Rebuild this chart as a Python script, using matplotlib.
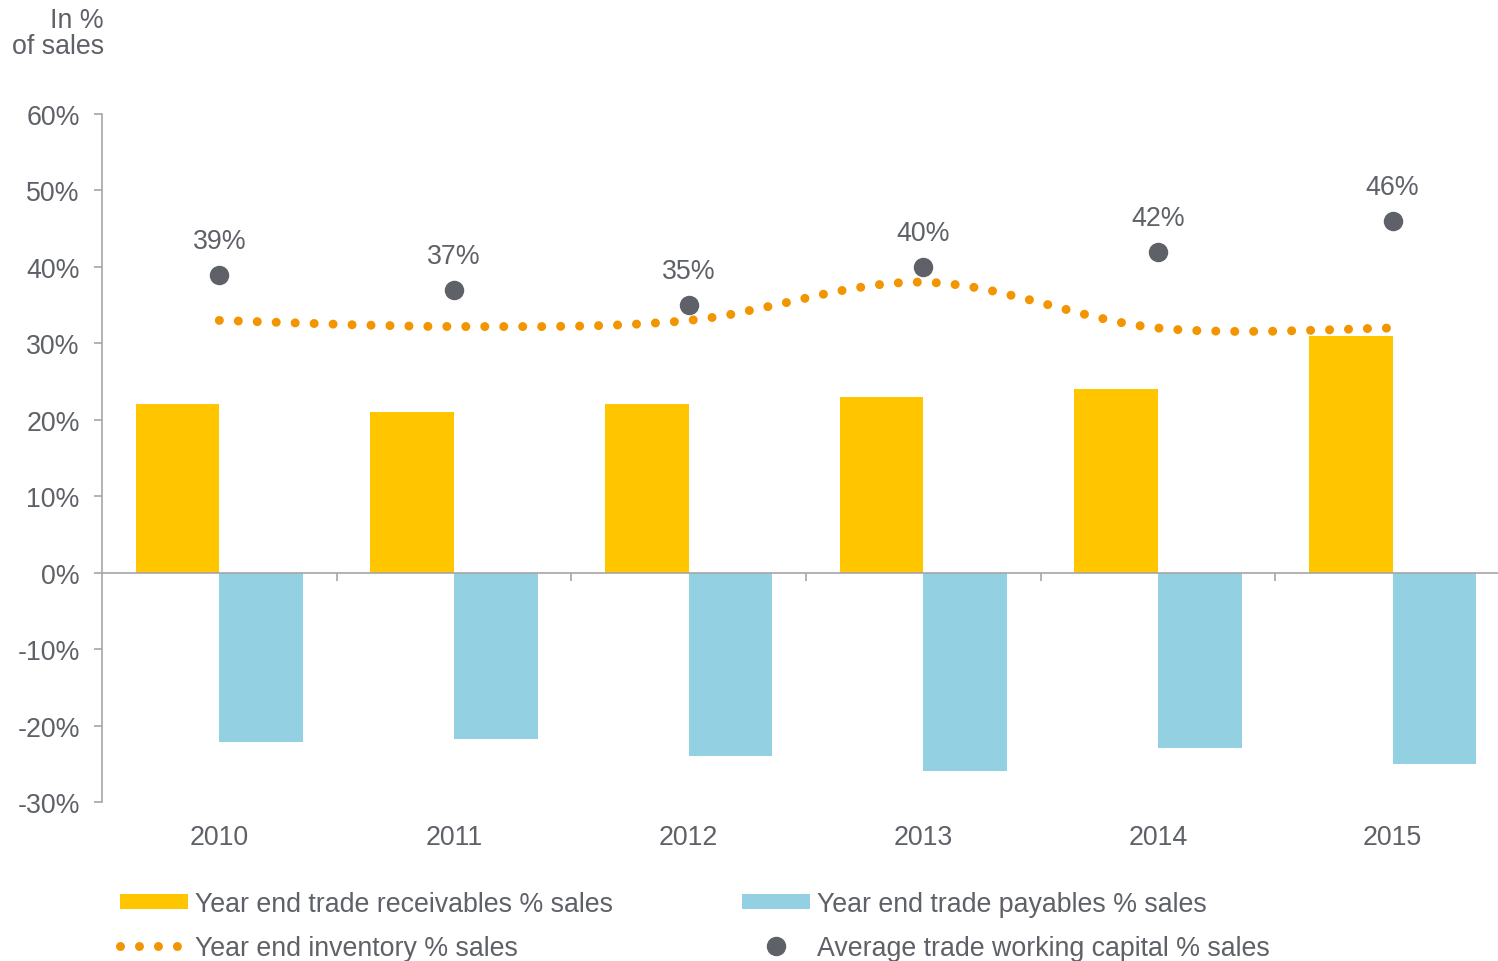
import numpy as np
import matplotlib
matplotlib.use('Agg')
import matplotlib.pyplot as plt
from matplotlib.path import Path
from matplotlib.patches import PathPatch, Patch
from matplotlib.lines import Line2D

# Chart data
years = ['2010', '2011', '2012', '2013', '2014', '2015']
receivables = [22, 21, 22, 23, 24, 31]
payables = [-22.2, -21.7, -24, -26, -23, -25]
inventory = [33, 32.2, 33, 38, 32, 32]
avg_twc = [39, 37, 35, 40, 42, 46]
avg_labels = ['39%', '37%', '35%', '40%', '42%', '46%']
yticks = [-30, -20, -10, 0, 10, 20, 30, 40, 50, 60]

# Colours
yellow = '#FFC600'
blue = '#92D0E2'
orange = '#F39500'
dark = '#5F6168'
grey_line = '#A6A6A6'

plt.rcParams['font.family'] = ['Liberation Sans', 'DejaVu Sans']
fs = 19.3

fig = plt.figure(figsize=(14.98, 9.62), dpi=100)
ax = fig.add_axes([102 / 1498, 159 / 962, 1408 / 1498, 688 / 962])

x = np.arange(len(years))
w = 0.357
ax.bar(x - w / 2, receivables, width=w, color=yellow, zorder=2)
ax.bar(x + w / 2, payables, width=w, color=blue, zorder=2)

# smoothed inventory line (Catmull-Rom style bezier, like Excel's smoothing)
pts = np.column_stack([x, inventory]).astype(float)
verts = [tuple(pts[0])]
codes = [Path.MOVETO]
n = len(pts)
for i in range(n - 1):
    p0 = pts[max(i - 1, 0)]
    p1 = pts[i]
    p2 = pts[i + 1]
    p3 = pts[min(i + 2, n - 1)]
    c1 = p1 + (p2 - p0) / 6
    c2 = p2 - (p3 - p1) / 6
    verts += [tuple(c1), tuple(c2), tuple(p2)]
    codes += [Path.CURVE4] * 3
dot_style = (0, (0.001, 2.1))
inv = PathPatch(Path(verts, codes), fill=False, edgecolor=orange, linewidth=6.5,
                linestyle=dot_style, capstyle='round', zorder=3)
ax.add_patch(inv)

ax.plot(x, avg_twc, 'o', color=dark, markersize=13, zorder=4)
for xi, yi, lab in zip(x, avg_twc, avg_labels):
    ax.annotate(lab, (xi, yi), xytext=(0, 15), textcoords='offset points',
                ha='center', va='bottom', fontsize=fs, color=dark)

ax.set_xlim(-0.5, len(years) - 0.5)
ax.set_ylim(-30, 60)
ax.set_yticks(yticks)
ax.set_yticklabels(['%d%%' % v for v in yticks])

for s in ['top', 'right']:
    ax.spines[s].set_visible(False)
ax.spines['left'].set_color(grey_line)
ax.spines['left'].set_linewidth(1.2)
ax.spines['bottom'].set_position(('data', 0))
ax.spines['bottom'].set_color(grey_line)
ax.spines['bottom'].set_linewidth(1.2)

ax.set_xticks(x)
ax.set_xticklabels([])
ax.set_xticks(x[:-1] + 0.5, minor=True)
ax.tick_params(axis='x', which='major', length=0)
ax.tick_params(axis='x', which='minor', length=6, width=1.2, color=grey_line)
ax.tick_params(axis='y', length=6, width=1.2, color=grey_line, labelsize=fs,
               labelcolor=dark, pad=10)

sec = ax.secondary_xaxis('bottom')
sec.spines['bottom'].set_visible(False)
sec.set_xticks(x)
sec.set_xticklabels(years)
sec.tick_params(length=0, pad=16, labelsize=fs, labelcolor=dark)

fig.text(104 / 1498, 1 - 8 / 962, 'In %\nof sales', ha='right', va='top',
         fontsize=fs, color=dark, multialignment='right', linespacing=1.0)

handles = [
    Patch(facecolor=yellow, edgecolor='none'),
    Line2D([], [], color=orange, linewidth=6.5, linestyle=dot_style,
           solid_capstyle='round', dash_capstyle='round'),
    Patch(facecolor=blue, edgecolor='none'),
    Line2D([], [], marker='o', linestyle='none', color=dark, markersize=13),
]
labels = ['Year end trade receivables % sales', 'Year end inventory % sales',
          'Year end trade payables % sales', 'Average trade working capital % sales']
fig.legend(handles, labels, loc='upper left', bbox_to_anchor=(120 / 1498, 1 - 892 / 962),
           ncol=2, frameon=False, fontsize=fs, labelcolor=dark, borderpad=0,
           borderaxespad=0, handlelength=2.54, handleheight=0.52, handletextpad=0.26,
           columnspacing=4.8, labelspacing=0.66)

fig.savefig('out.png', dpi=100)
